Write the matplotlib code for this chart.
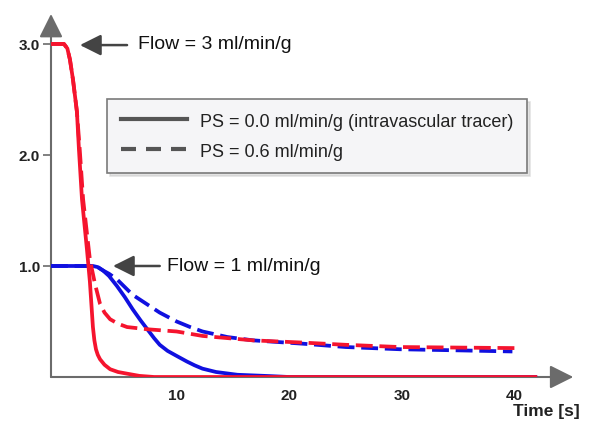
import matplotlib
matplotlib.use('Agg')
import matplotlib.pyplot as plt
from matplotlib.lines import Line2D

plt.rcParams['font.family'] = ['Liberation Sans', 'DejaVu Sans']

##! Curves (time in s, normalised signal)
t_f3_ps0 = [-1.15, 0.0, 0.3, 0.53, 0.8, 1.15, 1.33, 1.6, 2.04, 2.3, 2.57, 2.7, 2.84, 3.0, 3.2, 3.6,
            4.1, 4.8, 5.6, 6.7, 8.0, 42.0]
y_f3_ps0 = [3.0, 3.0, 2.96, 2.86, 2.68, 2.39, 2.05, 1.60, 1.15, 0.86, 0.45, 0.33, 0.25, 0.2, 0.16, 0.11,
            0.07, 0.045, 0.03, 0.01, 0.0, 0.0]

t_f3_ps6 = [-1.15, 0.0, 0.3, 0.53, 0.8, 1.15, 1.4, 1.7, 2.3, 2.75, 3.2, 3.6, 4.1, 4.8, 5.6, 7.4, 10.0,
            12.3, 16.8, 21.2, 25.0, 29.8, 35.0, 40.5]
y_f3_ps6 = [3.0, 3.0, 2.96, 2.86, 2.68, 2.39, 2.05, 1.60, 1.06, 0.84, 0.66, 0.58, 0.52, 0.48, 0.45, 0.43,
            0.41, 0.37, 0.33, 0.31, 0.29, 0.27, 0.265, 0.26]

t_f1_ps0 = [-1.15, 2.57, 3.0, 3.46, 4.0, 4.7, 5.4, 6.1, 6.8, 7.4, 8.0, 8.5, 9.2, 10.0, 10.9, 11.6,
            12.3, 13.5, 15.4, 18.3, 20.0, 42.0]
y_f1_ps0 = [1.0, 1.0, 0.99, 0.96, 0.91, 0.82, 0.72, 0.61, 0.51, 0.43, 0.35, 0.29, 0.235, 0.19, 0.14, 0.105,
            0.075, 0.045, 0.02, 0.008, 0.0, 0.0]

t_f1_ps6 = [-1.15, 2.57, 3.0, 3.46, 4.0, 4.7, 5.4, 6.1, 7.3, 8.5, 10.0, 11.2, 12.3, 14.5, 16.8, 21.2,
            25.0, 29.8, 35.0, 39.8]
y_f1_ps6 = [1.0, 1.0, 0.99, 0.96, 0.93, 0.88, 0.81, 0.74, 0.66, 0.58, 0.50, 0.45, 0.41, 0.36, 0.33, 0.30,
            0.27, 0.25, 0.24, 0.23]

yticks = [1.0, 2.0, 3.0]
ytick_labels = ['1.0', '2.0', '3.0']
xticks = [10, 20, 30, 40]
xtick_labels = ['10', '20', '30', '40']
legend_labels = ['PS = 0.0 ml/min/g (intravascular tracer)', 'PS = 0.6 ml/min/g']

RED = '#f5142e'
BLUE = '#1010e0'
AXC = '#6b6b6b'

fig = plt.figure(figsize=(6.0, 4.39), dpi=100)
ax = fig.add_axes([51/600, 1 - 378/439, (580 - 51)/600, (378 - 10)/439])
xmin, xmax = -1.15, 45.8
ax.set_xlim(xmin, xmax)
ax.set_ylim(0, 3.315)
for sp in ax.spines.values():
    sp.set_visible(False)

#-- axes with arrow heads
arr = dict(arrowstyle='-|>,head_length=0.9,head_width=0.45', color=AXC, lw=1.5,
           shrinkA=0, shrinkB=0, mutation_scale=16)
ax.annotate('', xy=(45.2, 0), xytext=(xmin, 0), arrowprops=arr, zorder=1, annotation_clip=False)
ax.annotate('', xy=(xmin, 3.27), xytext=(xmin, 0), arrowprops=arr, zorder=1, annotation_clip=False)

#-- curves
lw = 2.7
ax.plot(t_f1_ps0, y_f1_ps0, color=BLUE, lw=lw, solid_capstyle='butt', solid_joinstyle='round', zorder=3)
ax.plot(t_f1_ps6, y_f1_ps6, color=BLUE, lw=lw, dashes=(4.5, 1.8), zorder=3)
ax.plot(t_f3_ps6, y_f3_ps6, color=RED, lw=lw, dashes=(4.5, 1.8), zorder=4)
ax.plot(t_f3_ps0, y_f3_ps0, color=RED, lw=lw, solid_capstyle='butt', solid_joinstyle='round', zorder=4)

#-- ticks
ax.set_yticks(yticks)
ax.set_yticklabels(ytick_labels, fontsize=11, fontweight='bold', color='#222222')
ax.set_xticks(xticks)
ax.set_xticklabels(xtick_labels, fontsize=11, fontweight='bold', color='#222222')
ax.tick_params(axis='y', length=6, width=1.2, color=AXC, pad=2)
ax.tick_params(axis='x', length=0, pad=8)
ax.text(580/600, 1 - 412/439, 'Time [s]', transform=fig.transFigure, ha='right', va='center',
        fontsize=12.5, fontweight='bold', color='#222222')

#-- flow annotations
flow_arr = dict(arrowstyle='-|>,head_length=0.8,head_width=0.4', color='#444444', lw=1.8,
                shrinkA=0, shrinkB=0, mutation_scale=16)
ax.annotate('', xy=(1.42, 2.99), xytext=(5.6, 2.99), arrowprops=flow_arr)
ax.text(6.57, 3.0, 'Flow = 3 ml/min/g', fontsize=14, va='center', ha='left', color='#111111')
ax.annotate('', xy=(4.35, 1.0), xytext=(8.5, 1.0), arrowprops=flow_arr)
ax.text(9.14, 1.0, 'Flow = 1 ml/min/g', fontsize=14, va='center', ha='left', color='#111111')

#-- legend (line style only)
handles = [Line2D([], [], color='#555555', lw=3),
           Line2D([], [], color='#555555', lw=3, dashes=(3.6, 2.4))]
leg = ax.legend(handles, legend_labels, loc='upper left',
                bbox_to_anchor=(107/600, 1 - 100/439), bbox_transform=fig.transFigure,
                borderaxespad=0, fontsize=13, handlelength=3.7, handletextpad=0.7,
                borderpad=0.75, labelspacing=0.72, fancybox=False, framealpha=1,
                edgecolor='#7a7a7a', facecolor='#f5f5f7',
                shadow={'ox': 2, 'oy': -2, 'color': '#c8c8c8'})
leg.get_frame().set_linewidth(1.2)
for txt in leg.get_texts():
    txt.set_color('#222222')

plt.savefig('out.png', dpi=100)
plt.close()
